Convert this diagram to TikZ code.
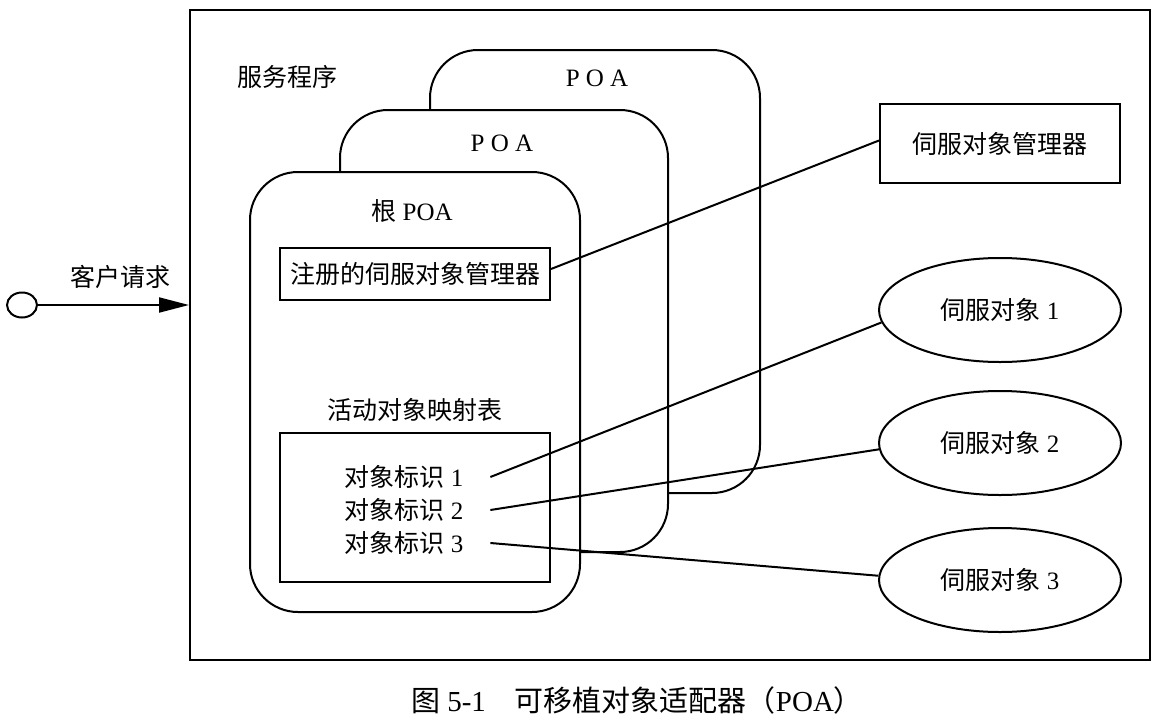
\documentclass[tikz,border=0pt]{standalone}
\usepackage{fontspec}
\setmainfont{Liberation Serif}
\newfontfamily\cjk{Noto Sans CJK SC}
\usetikzlibrary{arrows.meta,shapes.geometric}
\newcommand\zh[1]{{\cjk #1}}

\begin{document}
\begin{tikzpicture}[x=1pt,y=-1pt,line width=2pt,
  lbl/.style={font=\fontsize{25}{29}\selectfont, inner sep=0pt},
  poa/.style={draw, fill=white, rounded corners=48pt},
  box/.style={draw, fill=white, inner sep=0pt},
  servant/.style={draw, fill=white, ellipse, inner sep=0pt, minimum width=242, minimum height=104, font=\fontsize{25}{29}\selectfont}]
  \useasboundingbox (0,0) rectangle (1165,723);

  % server process frame
  \node[draw, minimum width=960, minimum height=650, inner sep=0pt] (server) at (670,335) {};
  \node[lbl] (srvlbl) at (287,77) {\zh{服务程序}};

  % client request
  \node[draw, ellipse, minimum width=30, minimum height=25, inner sep=0pt] (client) at (22,305) {};
  \draw[-{Triangle[length=30pt,width=15pt]}] (client.east) -- (client.east -| server.west);
  \node[lbl] (req) at (120,277) {\zh{客户请求}};

  % stacked POAs, back to front
  \node[poa, minimum width=330, minimum height=443] (poaC) at (595,271.5) {};
  \node[lbl] (poaClbl) at (597,78) {P O A};
  \node[poa, minimum width=328, minimum height=442] (poaB) at (504,331) {};
  \node[lbl] (poaBlbl) at (502,143) {P O A};
  \node[poa, minimum width=330, minimum height=440] (root) at (415,392) {};
  \node[lbl] (rootlbl) at (412,211) {\zh{根} POA};

  % contents of the root POA
  \node[box, minimum width=270, minimum height=52, lbl] (reg) at (415,274) {\zh{注册的伺服对象管理器}};
  \node[lbl] (aomlbl) at (415,410) {\zh{活动对象映射表}};
  \node[box, minimum width=270, minimum height=149] (aom) at (415,507.5) {};
  \node[lbl] (id1) at (404,477) {\zh{对象标识} 1};
  \node[lbl] (id2) at (404,510) {\zh{对象标识} 2};
  \node[lbl] (id3) at (404,543) {\zh{对象标识} 3};

  % servant manager and servants
  \node[box, minimum width=240, minimum height=79, lbl] (mgr) at (1000,143.5) {\zh{伺服对象管理器}};
  \node[servant] (s1) at (1000,310) {\zh{伺服对象} 1};
  \node[servant] (s2) at (1000,443) {\zh{伺服对象} 2};
  \node[servant] (s3) at (1000,580) {\zh{伺服对象} 3};

  % connections
  \draw ([yshift=5pt]reg.east) -- ([yshift=3pt]mgr.west);
  \draw ([xshift=26pt]id1.east) -- (s1.186);
  \draw ([xshift=26pt]id2.east) -- (s2.183);
  \draw ([xshift=26pt]id3.east) -- (s3.178);

  % caption
  \node[lbl, font=\fontsize{29}{33}\selectfont] (caption) at (637,700) {\zh{图} 5-1\quad\zh{可移植对象适配器（}POA\zh{）}};
\end{tikzpicture}
\end{document}
